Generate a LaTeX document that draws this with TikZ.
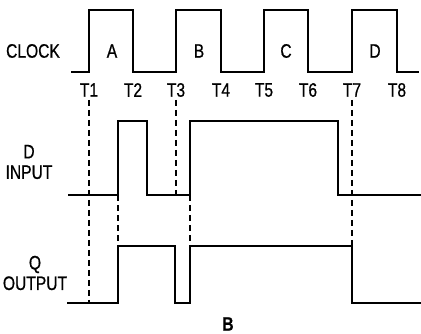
\documentclass[tikz,border=0pt]{standalone}
\usepackage{fontspec}
\setmainfont{Liberation Sans}[FakeStretch=0.8, FakeBold=0.7]
\usetikzlibrary{positioning}
\tikzset{
    wave/.style={draw, line width=2.2pt, line join=miter},
    guide/.style={draw, dash pattern=on 6pt off 4pt, line width=1.4pt},
    sig/.style={font=\fontsize{19.5}{20.5}\selectfont, align=center, inner sep=0pt},
    tick/.style={font=\fontsize{19.5}{20.5}\selectfont, inner sep=0pt}
}

\begin{document}
\begin{tikzpicture}[x=1pt, y=-1pt]
    \useasboundingbox (0,0) rectangle (421,334);
    % levels
    \coordinate (dlo) at (0,195);
    \coordinate (qhi) at (0,246);
    \coordinate (qlo) at (0,303);

    % clock
    \node [sig] (clk) at (33,51) {CLOCK};
    \draw [wave] (71,72) -- (89,72) -- (89,10) -- (133,10) -- (133,72)
        -- (176,72) -- (176,10) -- (221,10) -- (221,72)
        -- (264,72) -- (264,10) -- (308,10) -- (308,72)
        -- (352,72) -- (352,10) -- (397,10) -- (397,72) -- (419,72);
    \foreach \x [count=\i] in {89,133,176,221,264,308,352,397} {
        \coordinate (e\i) at (\x,100);
        \node [tick] (t\i) at (\x,90) {T\i};
    }
    \foreach \x/\p in {112/A,199/B,286/C,375/D}
        \node [tick] (p\p) at (\x,51) {\p};

    % D input
    \node [sig] (din) at (29,162) {D\\INPUT};
    \coordinate (drise1) at (118,195);
    \coordinate (drise2) at (190,195);
    \draw [wave] (68,195) -- (drise1) -- (118,121) -- (147,121) -- (147,195)
        -- (drise2) -- (190,121) -- (338,121) -- (338,195) -- (421,195);

    % Q output
    \node [sig] (qout) at (35,273) {Q\\OUTPUT};
    \coordinate (qrise1) at (118,246);
    \coordinate (qrise2) at (190,246);
    \draw [wave] (67,303) -- (118,303) -- (qrise1) -- (175,246) -- (175,303)
        -- (190,303) -- (qrise2) -- (352,246) -- (352,303) -- (421,303);

    % timing guides
    \draw [guide] (e1) -- (e1 |- qlo);
    \draw [guide] (e3) -- (e3 |- dlo);
    \draw [guide] (e7) -- (e7 |- qhi);
    \draw [guide] (drise1) -- (qrise1);
    \draw [guide] (drise2) -- (qrise2);

    \node [tick, font=\fontsize{19.5}{20.5}\selectfont\bfseries] (cap) at (228,324) {B};
\end{tikzpicture}
\end{document}
